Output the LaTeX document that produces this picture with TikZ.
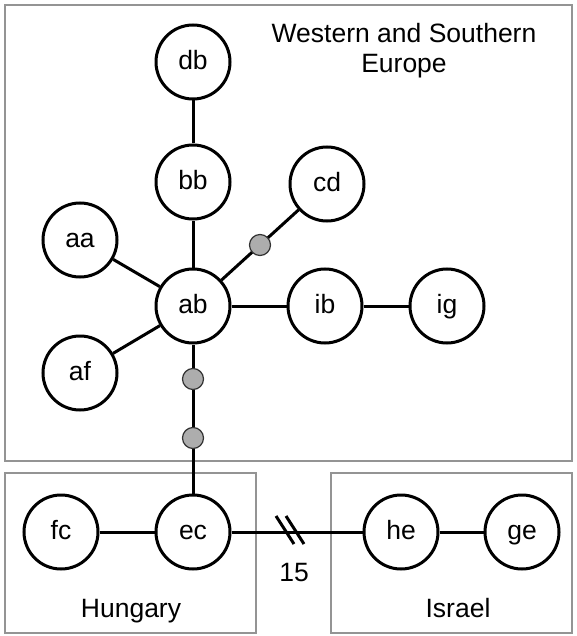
\documentclass[tikz,border=0pt]{standalone}
\usepackage{fontspec}
\setmainfont{Liberation Sans}
\usetikzlibrary{calc}
\begin{document}
\begin{tikzpicture}[x=1pt,y=-1pt,
  hap/.style={circle,draw=black,line width=3pt,fill=white,minimum size=74pt,inner sep=0pt,
    text height=19pt,text depth=4pt,font=\fontsize{26.5}{30}\selectfont},
  edge/.style={line width=3pt,black},
  dot/.style={circle,draw=black!80,line width=1.2pt,fill=black!32,minimum size=21pt,inner sep=0pt},
  region/.style={draw=black!42,line width=2.5pt},
  lbl/.style={font=\fontsize{26.5}{30}\selectfont,anchor=base,inner sep=0pt}]
\useasboundingbox (0,0) rectangle (577,636);
% region boxes
\draw[region] (5,5) rectangle (572,461);
\draw[region] (5,473) rectangle (256,633);
\draw[region] (331,473) rectangle (572,633);
\node[lbl] (weu1) at (404,43) {Western and Southern};
\node[lbl] (weu2) at (404,73) {Europe};
\node[lbl] (hun) at (131,617) {Hungary};
\node[lbl] (isr) at (458,617) {Israel};
% haplotype nodes
\node[hap] (db) at (193,62) {db};
\node[hap] (bb) at (193,182) {bb};
\node[hap] (cd) at (327,184) {cd};
\node[hap] (aa) at (80,240) {aa};
\node[hap] (ab) at (193,306) {ab};
\node[hap] (ib) at (325,306) {ib};
\node[hap] (ig) at (447,306) {ig};
\node[hap] (af) at (80,373) {af};
\node[hap] (fc) at (61,532) {fc};
\node[hap] (ec) at (193,532) {ec};
\node[hap] (he) at (401,532) {he};
\node[hap] (ge) at (522,532) {ge};
% edges
\draw[edge] (db) -- (bb);
\draw[edge] (bb) -- (ab);
\draw[edge] (aa) -- (ab);
\draw[edge] (af) -- (ab);
\draw[edge] (ab) -- (cd);
\draw[edge] (ab) -- (ib);
\draw[edge] (ib) -- (ig);
\draw[edge] (ab) -- (ec);
\draw[edge] (fc) -- (ec);
\draw[edge] (ec) -- (he);
\draw[edge] (he) -- (ge);
% median vectors
\node[dot] (m1) at ($(ab)!0.5!(cd)$) {};
\node[dot] (m2) at (193,379) {};
\node[dot] (m3) at (193,438) {};
% break mark
\coordinate (brk) at (292,530);
\draw[edge] ([shift={(-16,-14)}]brk) -- ([shift={(2,14)}]brk);
\draw[edge] ([shift={(-6,-14)}]brk) -- ([shift={(12,14)}]brk);
\node[lbl] (n15) at (294,581) {15};
\end{tikzpicture}
\end{document}
